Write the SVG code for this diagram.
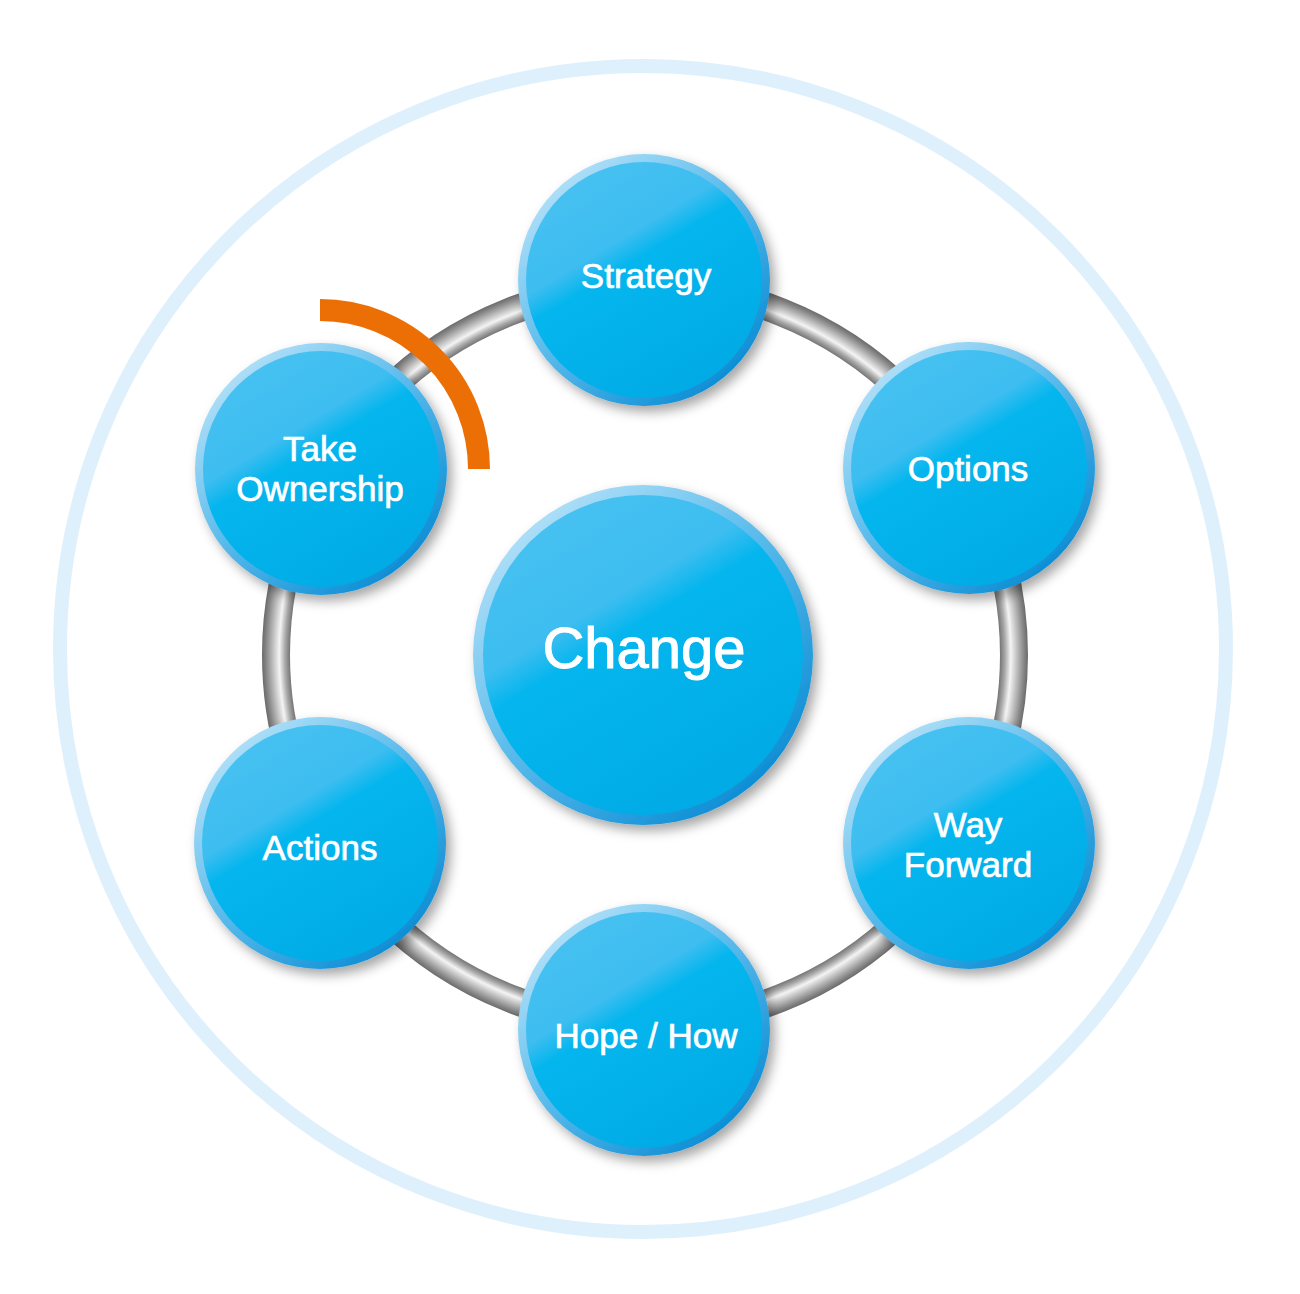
<svg xmlns="http://www.w3.org/2000/svg" width="1300" height="1294" viewBox="0 0 1300 1294">
<defs>
<linearGradient id="rim" x1="0.15" y1="0.1" x2="0.85" y2="0.9">
<stop offset="0" stop-color="#b2e0f8"/>
<stop offset="0.45" stop-color="#5cbcec"/>
<stop offset="1" stop-color="#0a8cd4"/>
</linearGradient>
<linearGradient id="face" x1="0.2" y1="0" x2="0.8" y2="1">
<stop offset="0" stop-color="#48c2f1"/>
<stop offset="0.33" stop-color="#3dbdf0"/>
<stop offset="0.42" stop-color="#05b6ee"/>
<stop offset="1" stop-color="#00a9e4"/>
</linearGradient>
<radialGradient id="tube" gradientUnits="userSpaceOnUse" cx="645" cy="655" r="383">
<stop offset="0" stop-color="#666"/>
<stop offset="0.925" stop-color="#6e6e6e"/>
<stop offset="0.94" stop-color="#a8a8a8"/>
<stop offset="0.955" stop-color="#f4f4f4"/>
<stop offset="0.97" stop-color="#c4c4c4"/>
<stop offset="0.99" stop-color="#858585"/>
<stop offset="1" stop-color="#6a6a6a"/>
</radialGradient>
<filter id="sh" x="-20%" y="-20%" width="150%" height="150%">
<feDropShadow dx="5" dy="6" stdDeviation="6" flood-color="#000" flood-opacity="0.35"/>
</filter>
</defs>
<style>
.rim{fill:url(#rim);filter:url(#sh)}
.face{fill:url(#face)}
.lbl{font-family:"Liberation Sans",Arial,Helvetica,sans-serif;fill:#fff;stroke:#fff;stroke-width:0.7px;text-anchor:middle;font-size:35px}
</style>
<rect width="1300" height="1294" fill="#fff"/>
<circle cx="643" cy="649" r="583" fill="none" stroke="#dff0fd" stroke-width="14"/>
<g id="connectors">
<circle cx="645" cy="655" r="369" fill="none" stroke="url(#tube)" stroke-width="28"/>
</g>
<g id="node-change">
<circle class="rim" cx="643" cy="655" r="170"/>
<circle class="face" cx="643" cy="655" r="160"/>
<text class="lbl" x="644" y="668" style="font-size:58px;stroke-width:1px">Change</text>
</g>
<g id="node-strategy">
<circle class="rim" cx="644" cy="280" r="126"/>
<circle class="face" cx="644" cy="280" r="118"/>
<text class="lbl" x="646" y="288">Strategy</text>
</g>
<g id="node-options">
<circle class="rim" cx="969" cy="468" r="126"/>
<circle class="face" cx="969" cy="468" r="118"/>
<text class="lbl" x="968" y="481">Options</text>
</g>
<g id="node-wayforward">
<circle class="rim" cx="969" cy="843" r="126"/>
<circle class="face" cx="969" cy="843" r="118"/>
<text class="lbl" x="968" y="837">Way</text>
<text class="lbl" x="968" y="877">Forward</text>
</g>
<g id="node-hopehow">
<circle class="rim" cx="644" cy="1030" r="126"/>
<circle class="face" cx="644" cy="1030" r="118"/>
<text class="lbl" x="646" y="1048">Hope / How</text>
</g>
<g id="node-actions">
<circle class="rim" cx="320" cy="843" r="126"/>
<circle class="face" cx="320" cy="843" r="118"/>
<text class="lbl" x="320" y="860">Actions</text>
</g>
<g id="node-takeownership">
<circle class="rim" cx="321" cy="469" r="126"/>
<circle class="face" cx="321" cy="469" r="118"/>
<text class="lbl" x="320" y="461">Take</text>
<text class="lbl" x="320" y="501">Ownership</text>
</g>
<path d="M320 310 A159 159 0 0 1 479 469" fill="none" stroke="#ec6f06" stroke-width="22"/>
</svg>
